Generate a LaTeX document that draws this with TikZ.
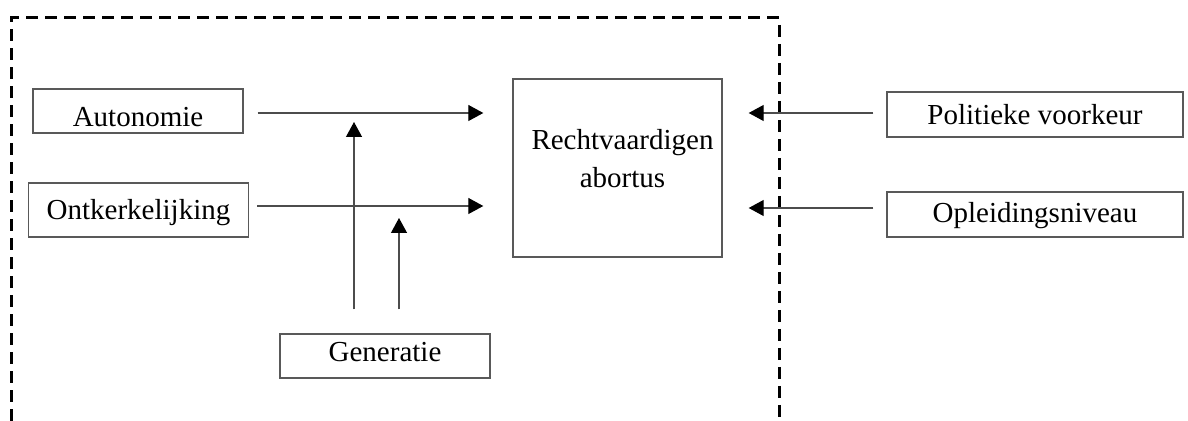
\documentclass[tikz,border=0pt]{standalone}
\usepackage{fontspec}
\setmainfont{Liberation Serif}
\usetikzlibrary{arrows.meta,positioning,calc}

\tikzset{
  blok/.style={draw=black!65, line width=0.7pt, inner sep=0pt, align=center,
               text depth=0pt, font=\fontsize{14.5}{16}\selectfont},
  pijl/.style={draw=black!70, line width=0.6pt,
               -{Triangle[length=7.5pt,width=8pt,color=black]}},
  kader/.style={line width=1.5pt, dash pattern=on 6pt off 3.5pt}
}

\begin{document}
\begin{tikzpicture}[x=0.5pt,y=-0.5pt]
\useasboundingbox (0,0) rectangle (1188,421);

% dashed frame (open at the bottom)
\draw[kader] (11,421) -- (11,18) -- (779,18) -- (779,421);

% boxes
\node[blok, minimum width=105pt, minimum height=22pt, text height=16pt] (autonomie) at (138,111) {Autonomie};
\node[blok, minimum width=110pt, minimum height=27pt, text height=10pt] (ontkerk) at (138.5,210) {Ontkerkelijking};
\node[blok, minimum width=104.5pt, minimum height=89pt, text height=20pt,
      font=\fontsize{14.5}{19}\selectfont] (recht) at (617.5,168)
      {\parbox[b]{104.5pt}{\centering\hspace*{5pt}Rechtvaardigen\\\hspace*{5pt}abortus}};
\node[blok, minimum width=148pt, minimum height=22.5pt, text height=10.5pt] (politiek) at (1035,114.5) {Politieke voorkeur};
\node[blok, minimum width=148pt, minimum height=22.5pt, text height=8.5pt] (opleiding) at (1035,214.5) {Opleidingsniveau};
\node[blok, minimum width=105pt, minimum height=22pt, text height=6pt] (generatie) at (385,356) {Generatie};

% arrows to the central box
\draw[pijl, shorten <=7pt, shorten >=14.5pt] ([yshift=-1pt]autonomie.east) -- ([yshift=-1pt]autonomie.east -| recht.west);
\draw[pijl, shorten <=4pt, shorten >=14.5pt] ([yshift=2pt]ontkerk.east) -- ([yshift=2pt]ontkerk.east -| recht.west);
\draw[pijl, shorten <=6.5pt, shorten >=13pt] ([yshift=0.75pt]politiek.west) -- ([yshift=0.75pt]politiek.west -| recht.east);
\draw[pijl, shorten <=6.5pt, shorten >=13pt] ([yshift=3.25pt]opleiding.west) -- ([yshift=3.25pt]opleiding.west -| recht.east);

% moderating arrows from Generatie
\draw[pijl, shorten <=12pt, shorten >=4.5pt] ([xshift=-15.5pt]generatie.north) -- ([xshift=-15.5pt,yshift=-1pt]generatie.north |- autonomie.east);
\draw[pijl, shorten <=12pt, shorten >=6pt] ([xshift=7pt]generatie.north) -- ([xshift=7pt,yshift=2pt]generatie.north |- ontkerk.east);
\end{tikzpicture}
\end{document}
